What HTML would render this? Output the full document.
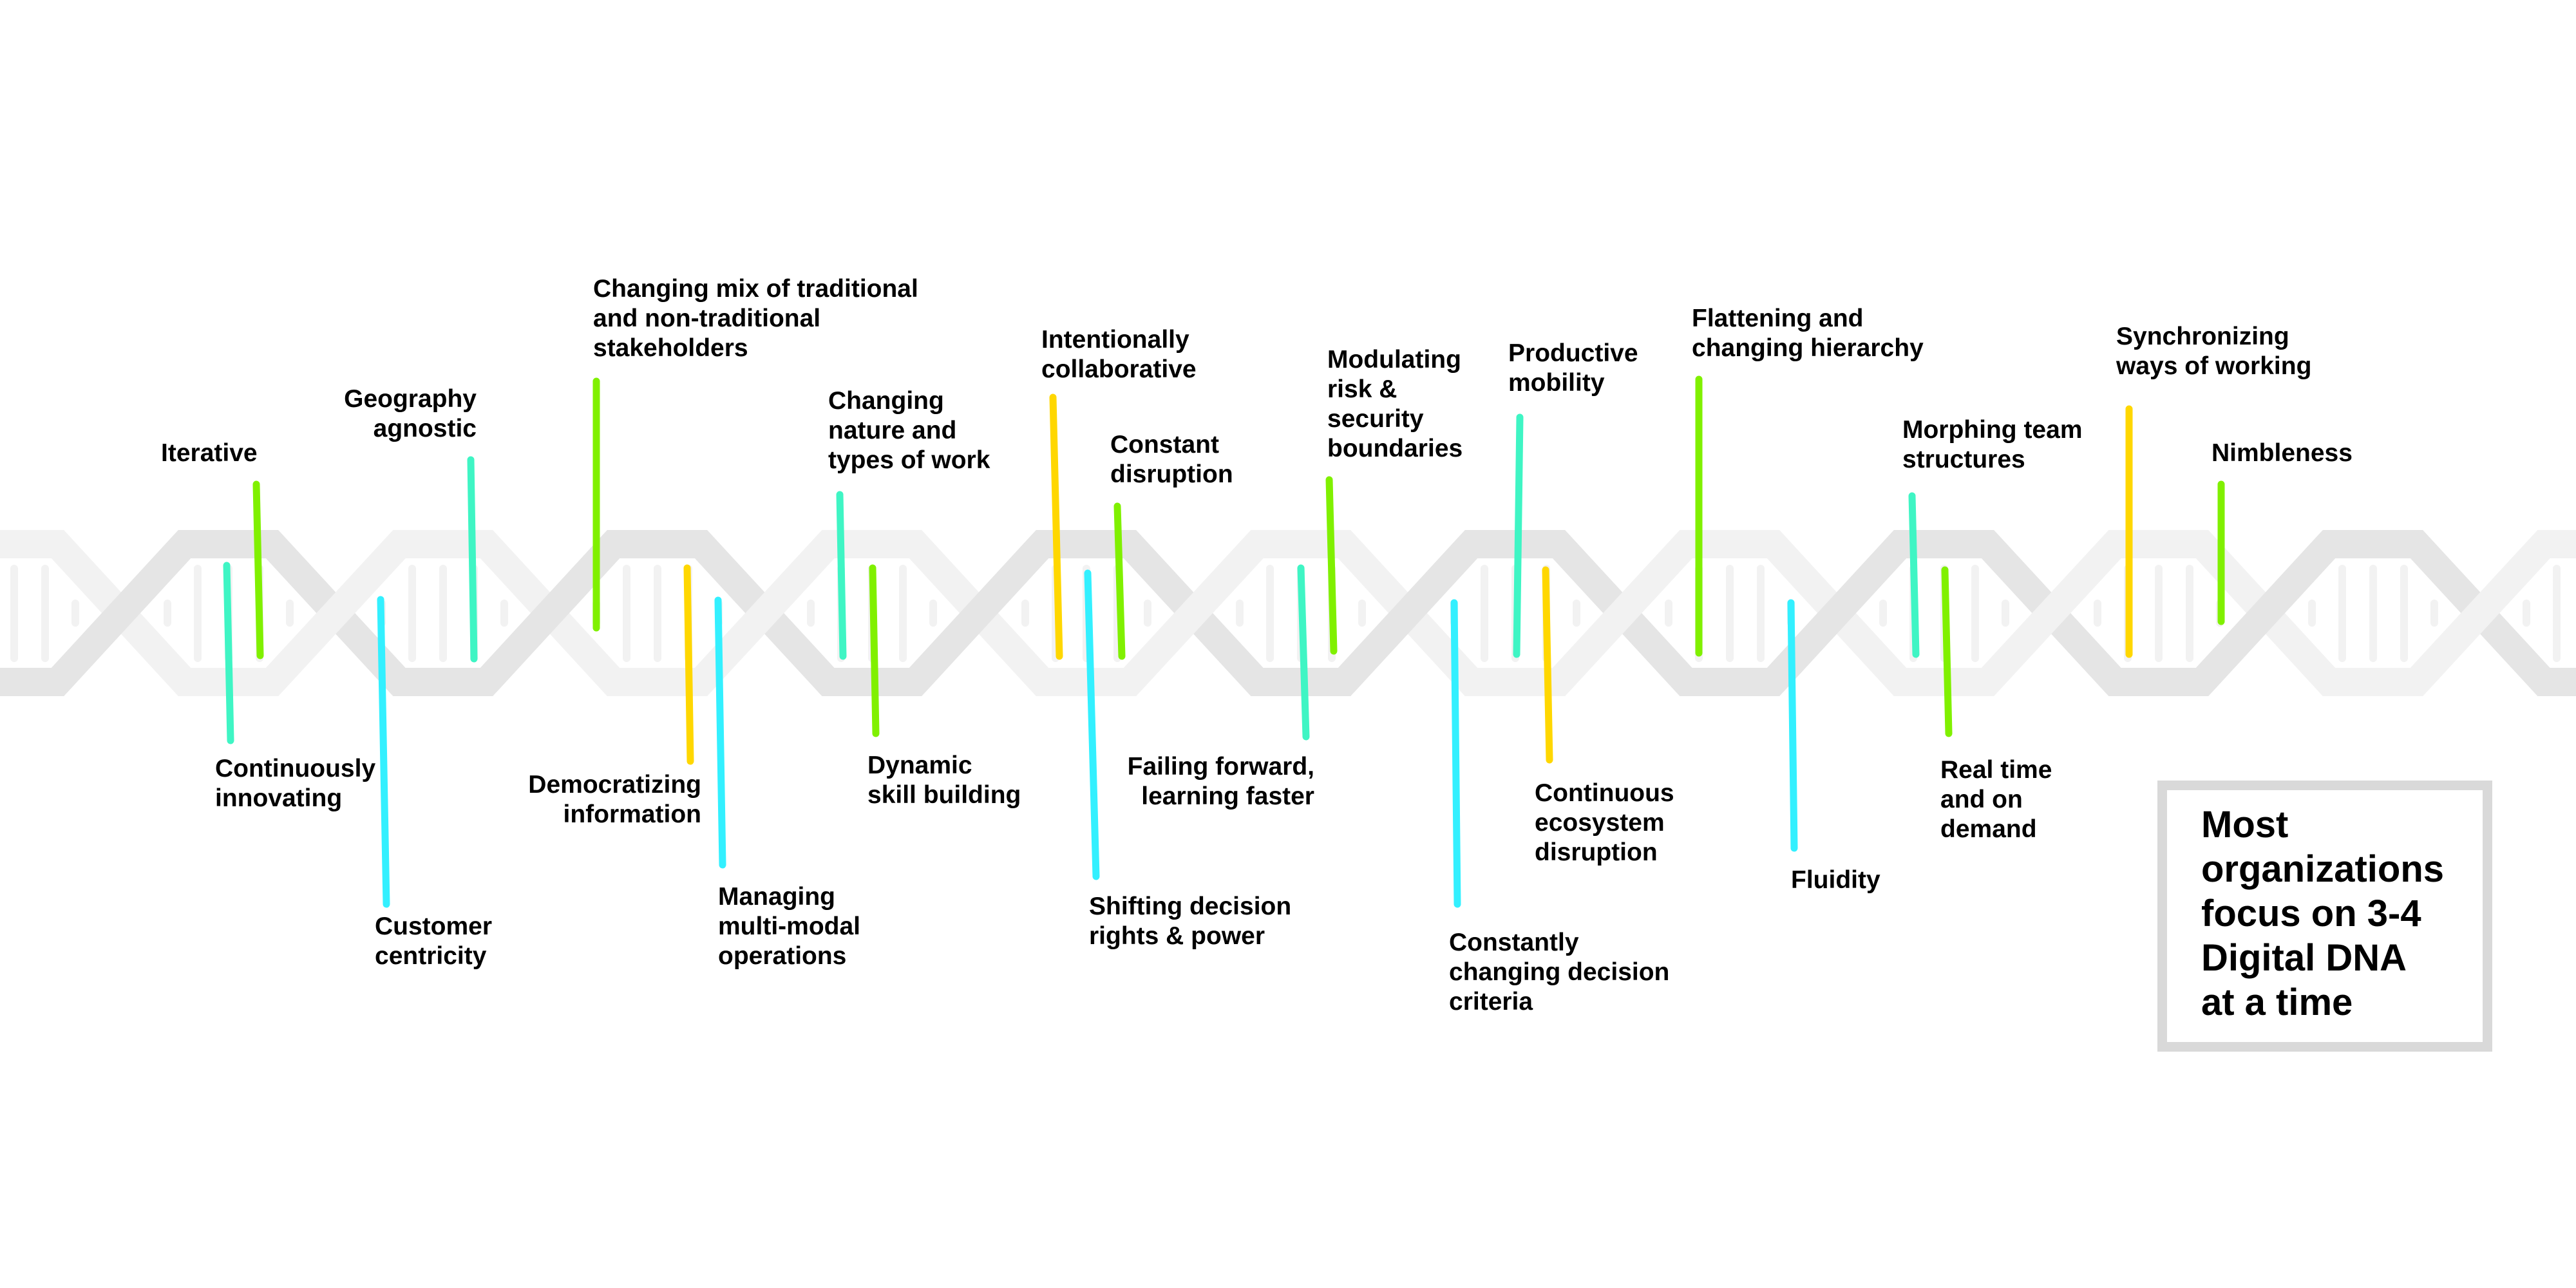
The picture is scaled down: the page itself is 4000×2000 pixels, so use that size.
<!DOCTYPE html>
<html><head><meta charset="utf-8"><style>
html,body{margin:0;padding:0;background:#fff;}
#c{position:relative;width:4000px;height:2000px;overflow:hidden;background:#fff;}
svg{position:absolute;left:0;top:0;}
.l{position:absolute;font-family:"Liberation Sans",sans-serif;font-weight:bold;font-size:39px;line-height:46px;color:#000;white-space:nowrap;}
.r{text-align:right;}
#box{position:absolute;left:3350px;top:1212px;width:490px;height:391px;border:15px solid #d9d9d9;background:#fff;}
#bt{position:absolute;left:3418px;top:1246px;font-family:"Liberation Sans",sans-serif;font-weight:bold;font-size:58px;line-height:69px;color:#000;white-space:nowrap;}
</style></head><body><div id="c">
<svg width="4000" height="2000" viewBox="0 0 4000 2000">
<g stroke="#f2f2f2" stroke-width="12" stroke-linecap="round">
<path d="M-26 883V1022M22 883V1022M70 883V1022M-73 937V967M117 937V967
M307 883V1022M355 883V1022M403 883V1022M260 937V967M450 937V967
M640 883V1022M688 883V1022M736 883V1022M593 937V967M783 937V967
M973 883V1022M1021 883V1022M1069 883V1022M926 937V967M1116 937V967
M1306 883V1022M1354 883V1022M1402 883V1022M1259 937V967M1449 937V967
M1639 883V1022M1687 883V1022M1735 883V1022M1592 937V967M1782 937V967
M1972 883V1022M2020 883V1022M2068 883V1022M1925 937V967M2115 937V967
M2305 883V1022M2353 883V1022M2401 883V1022M2258 937V967M2448 937V967
M2638 883V1022M2686 883V1022M2734 883V1022M2591 937V967M2781 937V967
M2971 883V1022M3019 883V1022M3067 883V1022M2924 937V967M3114 937V967
M3304 883V1022M3352 883V1022M3400 883V1022M3257 937V967M3447 937V967
M3637 883V1022M3685 883V1022M3733 883V1022M3590 937V967M3780 937V967
M3970 883V1022M3923 937V967"/>
</g>
<polyline fill="none" stroke="#f2f2f2" stroke-width="44" stroke-linejoin="miter" stroke-miterlimit="10"
points="-244,1059 -46,845 89.5,845 286.5,1059 422.5,1059 620,845 755.5,845 952.5,1059 1088.5,1059 1286,845 1421.5,845 1618.5,1059 1754.5,1059 1952,845 2087.5,845 2284.5,1059 2420.5,1059 2618,845 2753.5,845 2950.5,1059 3086.5,1059 3284,845 3419.5,845 3616.5,1059 3752.5,1059 3950,845 4085.5,845 4282.5,1059"/>
<polyline fill="none" stroke="#e5e5e5" stroke-width="44" stroke-linejoin="miter" stroke-miterlimit="10"
points="-244,845 -46,1059 89.5,1059 286.5,845 422.5,845 620,1059 755.5,1059 952.5,845 1088.5,845 1286,1059 1421.5,1059 1618.5,845 1754.5,845 1952,1059 2087.5,1059 2284.5,845 2420.5,845 2618,1059 2753.5,1059 2950.5,845 3086.5,845 3284,1059 3419.5,1059 3616.5,845 3752.5,845 3950,1059 4085.5,1059 4282.5,845"/>
<!-- ascending segments on top -->
<g stroke-width="44" stroke-linecap="butt">
<path stroke="#f2f2f2" d="M422.5 1059L620 845M1088.5 1059L1286 845M1754.5 1059L1952 845M2420.5 1059L2618 845M3086.5 1059L3284 845M3752.5 1059L3950 845"/>
<path stroke="#e5e5e5" d="M89.5 1059L286.5 845M755.5 1059L952.5 845M1421.5 1059L1618.5 845M2087.5 1059L2284.5 845M2753.5 1059L2950.5 845M3419.5 1059L3616.5 845"/>
</g>
<g stroke-width="11" stroke-linecap="round" fill="none">
<line x1="398" y1="752" x2="404" y2="1018" stroke="#80f000"/>
<line x1="352" y1="878" x2="358" y2="1150" stroke="#3ff5c4"/>
<line x1="591" y1="931" x2="600" y2="1404" stroke="#33f0ff"/>
<line x1="731" y1="714" x2="736" y2="1023" stroke="#3ff5c4"/>
<line x1="926" y1="592" x2="926" y2="975" stroke="#80f000"/>
<line x1="1067" y1="882" x2="1072" y2="1182" stroke="#ffd700"/>
<line x1="1115" y1="932" x2="1122" y2="1343" stroke="#33f0ff"/>
<line x1="1304" y1="768" x2="1309" y2="1019" stroke="#3ff5c4"/>
<line x1="1355" y1="882" x2="1360" y2="1139" stroke="#80f000"/>
<line x1="1635" y1="617" x2="1645" y2="1019" stroke="#ffd700"/>
<line x1="1735" y1="786" x2="1742" y2="1019" stroke="#80f000"/>
<line x1="1689" y1="890" x2="1702" y2="1361" stroke="#33f0ff"/>
<line x1="2064" y1="745" x2="2071" y2="1011" stroke="#80f000"/>
<line x1="2020" y1="882" x2="2028" y2="1144" stroke="#3ff5c4"/>
<line x1="2258" y1="936" x2="2263" y2="1404" stroke="#33f0ff"/>
<line x1="2360" y1="648" x2="2355" y2="1016" stroke="#3ff5c4"/>
<line x1="2400" y1="885" x2="2406" y2="1180" stroke="#ffd700"/>
<line x1="2638" y1="589" x2="2638" y2="1014" stroke="#80f000"/>
<line x1="2781" y1="936" x2="2786" y2="1317" stroke="#33f0ff"/>
<line x1="2969" y1="770" x2="2975" y2="1016" stroke="#3ff5c4"/>
<line x1="3020" y1="885" x2="3026" y2="1139" stroke="#80f000"/>
<line x1="3306" y1="635" x2="3306" y2="1016" stroke="#ffd700"/>
<line x1="3449" y1="752" x2="3449" y2="965" stroke="#80f000"/>
</g>
</svg>
<div class="l" style="left:250px;top:681px">Iterative</div>
<div class="l r" style="right:3260px;top:597px">Geography<br>agnostic</div>
<div class="l" style="left:921px;top:426px">Changing mix of traditional<br>and non-traditional<br>stakeholders</div>
<div class="l" style="left:1286px;top:600px">Changing<br>nature and<br>types of work</div>
<div class="l" style="left:1617px;top:505px">Intentionally<br>collaborative</div>
<div class="l" style="left:1724px;top:668px">Constant<br>disruption</div>
<div class="l" style="left:2061px;top:536px">Modulating<br>risk &amp;<br>security<br>boundaries</div>
<div class="l" style="left:2342px;top:526px">Productive<br>mobility</div>
<div class="l" style="left:2627px;top:472px">Flattening and<br>changing hierarchy</div>
<div class="l" style="left:2954px;top:645px">Morphing team<br>structures</div>
<div class="l" style="left:3286px;top:500px">Synchronizing<br>ways of working</div>
<div class="l" style="left:3434px;top:681px">Nimbleness</div>
<div class="l" style="left:334px;top:1171px">Continuously<br>innovating</div>
<div class="l" style="left:582px;top:1416px">Customer<br>centricity</div>
<div class="l r" style="right:2911px;top:1196px">Democratizing<br>information</div>
<div class="l" style="left:1115px;top:1370px">Managing<br>multi-modal<br>operations</div>
<div class="l" style="left:1347px;top:1166px">Dynamic<br>skill building</div>
<div class="l r" style="right:1959px;top:1168px">Failing forward,<br>learning faster</div>
<div class="l" style="left:1691px;top:1385px">Shifting decision<br>rights &amp; power</div>
<div class="l" style="left:2250px;top:1441px">Constantly<br>changing decision<br>criteria</div>
<div class="l" style="left:2383px;top:1209px">Continuous<br>ecosystem<br>disruption</div>
<div class="l" style="left:2781px;top:1344px">Fluidity</div>
<div class="l" style="left:3013px;top:1173px">Real time<br>and on<br>demand</div>
<div id="box"></div>
<div id="bt">Most<br>organizations<br>focus on 3-4<br>Digital DNA<br>at a time</div>
</div></body></html>
